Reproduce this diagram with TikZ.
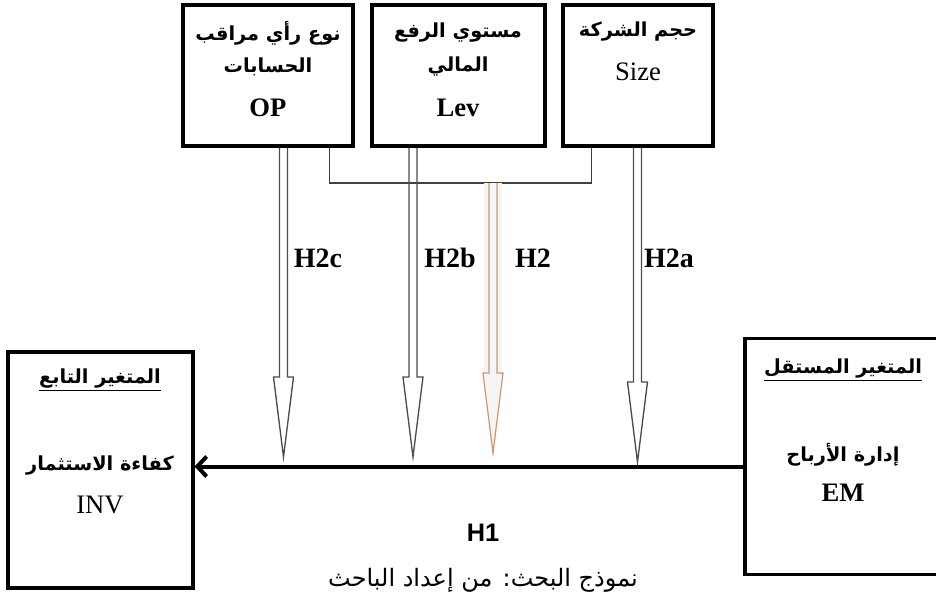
\documentclass[tikz,border=0pt]{standalone}
\usepackage{fontspec}
\usepackage{tikz}
\usetikzlibrary{calc}
\usetikzlibrary{arrows.meta}
\setmainfont{Liberation Serif}
\newfontfamily\arabicfont[Script=Arabic]{DejaVu Sans}
\newfontfamily\hfont{Liberation Sans}
\TeXXeTstate=1

\newcommand{\artext}[1]{{\arabicfont\beginR #1\endR}}
% hollow double-line arrow: from (#2) down to tip (#3)
\newcommand{\hyparrow}[3][hyp]{%
\draw[#1] ($(#2)+(-4,0)$) -- ($(#3)+(-4,-80)$) -- ($(#3)+(-10,-80)$) -- (#3) -- ($(#3)+(10,-80)$) -- ($(#3)+(4,-80)$) -- ($(#2)+(4,0)$) ;}

\begin{document}
\begin{tikzpicture}[x=0.75pt,y=0.75pt,yscale=-1,xscale=1,
  varbox/.style={draw, line width=2.3pt, rectangle, inner sep=0pt},
  topbox/.style={varbox, minimum height=105.75pt},
  sidebox/.style={varbox, minimum width=138.75pt, minimum height=177pt},
  hyp/.style={draw=black!70, line width=1pt, line join=miter},
  hyptan/.style={draw={rgb,255:red,205;green,150;blue,110}, line width=0.9pt},
  bracket/.style={draw=black!75, line width=0.9pt},
  lbl/.style={inner sep=0.75pt, font=\fontsize{21}{24}\selectfont\bfseries},
  artxt/.style={inner sep=0.75pt, font=\fontsize{14.5}{17}\selectfont\bfseries}]
\useasboundingbox (0,0) rectangle (936,607);

%Shape: Rectangle [top boxes]
\node[topbox, minimum width=127.5pt] (op) at (268,75.5) {};
\node[topbox, minimum width=129.75pt] (lev) at (458.5,75.5) {};
\node[topbox, minimum width=112.5pt] (size) at (638,75.5) {};
%Shape: Rectangle [side boxes]
\node[sidebox] (inv) at (100.5,470) {};
\node[sidebox, minimum width=153.75pt] (em) at (847.5,456.5) {};

% Text Node
\node[artxt] (optxa) at (268,33) {\artext{نوع رأي مراقب}};
\node[artxt] (optxb) at (268,67) {\artext{الحسابات}};
\node[lbl, font=\fontsize{20}{24}\selectfont\bfseries] (optxc) at (268,108) {OP};
% Text Node
\node[artxt] (levtxa) at (458,33) {\artext{مستوي الرفع}};
\node[artxt] (levtxb) at (458,67) {\artext{المالي}};
\node[lbl, font=\fontsize{20}{24}\selectfont\bfseries] (levtxc) at (458,108) {Lev};
% Text Node
\node[artxt] (sizetxa) at (638,32) {\artext{حجم الشركة}};
\node[lbl, font=\fontsize{20}{24}\selectfont] (sizetxb) at (638,72) {Size};
% Text Node
\node[artxt] (invtxa) at (100,380) {\underline{\artext{المتغير التابع}}};
\node[artxt] (invtxb) at (100,466) {\artext{كفاءة الاستثمار}};
\node[lbl, font=\fontsize{20}{24}\selectfont] (invtxc) at (100,505) {INV};
% Text Node
\node[artxt] (emtxa) at (843,370) {\underline{\artext{المتغير المستقل}}};
\node[artxt] (emtxb) at (843,455) {\artext{إدارة الأرباح}};
\node[lbl, font=\fontsize{20}{24}\selectfont\bfseries] (emtxc) at (843,493) {EM};

%Straight Lines [bracket joining the three moderators]
\coordinate (jn) at (493,183);
\draw[bracket] ($(op.south east)+(-25,0)$) |- (jn) -| ($(size.south west)+(30,0)$);
\draw[bracket] ($(lev.south)+(13.5,0)$) -- ($(lev.south)+(13.5,0)$ |- jn);

%Arrows [hypotheses H2a, H2b, H2c]
\coordinate (tc) at (283.5,457);
\coordinate (tb) at (413,457);
\coordinate (ta) at (637.5,462);
\coordinate (th) at (493,453);
\coordinate (tcs) at (op.south -| tc);
\coordinate (tbs) at (lev.south -| tb);
\coordinate (tas) at (size.south -| ta);
\hyparrow{tcs}{tc}
\hyparrow{tbs}{tb}
\hyparrow{tas}{ta}
% shadow and tan arrow for H2
\fill[gray!8] ($(jn)+(-9,0)$) rectangle ($(th)+(9,-85)$);
\fill[gray!8] ($(th)+(-9,-85)$) -- ($(th)+(9,-85)$) -- (th) -- cycle;
\hyparrow[hyptan]{jn}{th}

%Straight Lines [H1]
\coordinate (h1s) at ($(em.west)+(0,10)$);
\draw[line width=3pt, -{Straight Barb[length=7pt, width=15pt]}] (h1s) -- (h1s -| inv.east);

% Text Node
\node[lbl] (h2c) at (318,258) {H2c};
\node[lbl] (h2b) at (450,258) {H2b};
\node[lbl] (h2) at (533,258) {H2};
\node[lbl] (h2a) at (669,258) {H2a};
\node[lbl, font=\fontsize{19}{22}\selectfont\hfont\bfseries] (h1) at (483,533) {H1};
\node[artxt, font=\fontsize{18}{21}\selectfont] (caption) at (483,580) {\artext{نموذج البحث: من إعداد الباحث}};

\end{tikzpicture}
\end{document}
